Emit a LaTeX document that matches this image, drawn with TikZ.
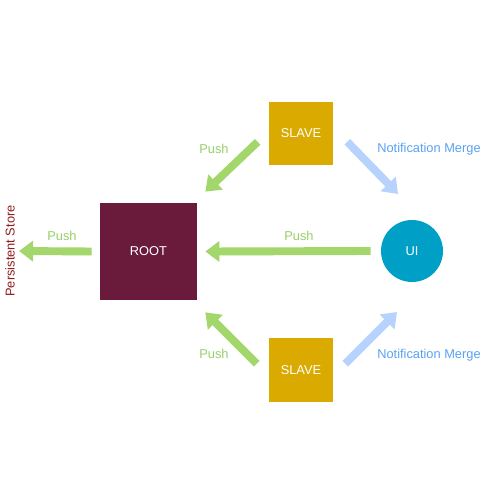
\documentclass[tikz,border=0pt]{standalone}
\usepackage{fontspec}
\setmainfont{Liberation Sans}
\usetikzlibrary{arrows.meta,calc}
\definecolor{rootc}{HTML}{6A1A3A}
\definecolor{slavec}{HTML}{DAAA00}
\definecolor{uic}{HTML}{00A0C6}
\definecolor{greenc}{HTML}{A3D76B}
\definecolor{bluec}{HTML}{B7D2FC}
\definecolor{bluet}{HTML}{5AA2F2}
\definecolor{greent}{HTML}{98CF6A}
\definecolor{storec}{HTML}{8E1E1E}
\tikzset{
  box/.style={draw=none,fill=#1,minimum size=1.92cm,inner sep=0pt,text=white,font=\fontsize{7.3}{8}\selectfont},
  garrow/.style={draw=greenc,line width=4.5pt,-{Triangle[width=11.5pt,length=8pt]}},
  barrow/.style={draw=bluec,line width=4.5pt,-{Triangle[width=11.5pt,length=8pt]}},
  glabel/.style={text=greent,font=\fontsize{7.3}{8}\selectfont,inner sep=0pt},
  blabel/.style={text=bluet,font=\fontsize{7.3}{8}\selectfont,inner sep=0pt},
}
\begin{document}
\begin{tikzpicture}[x=0.02cm,y=-0.02cm]
\useasboundingbox[fill=white] (0,0) rectangle (500,500);
\node[box=rootc,minimum size=1.94cm] (root) at (148.5,251.5) {ROOT};
\node[box=slavec,minimum size=1.28cm] (s1) at (301,133.5) {SLAVE};
\node[box=slavec,minimum size=1.28cm] (s2) at (301,370) {SLAVE};
\node[circle,fill=uic,minimum size=1.24cm,inner sep=0pt,text=white,font=\fontsize{7.3}{8}\selectfont] (ui) at (412,251) {UI};
\node[rotate=90,text=storec,font=\fontsize{7.3}{8}\selectfont,inner sep=0pt] (store) at (10,251) {Persistent Store};
% arrows
\draw[garrow] ($(root.west)+(-8,0)$) -- ($(store.south)+(4,0)$);
\draw[garrow] ($(ui.west)+(-10,0)$) -- ($(root.east)+(8,0)$);
\draw[garrow] ($(s1.south west)+(-11,-24)$) -- ($(root.north east)+(8,-11)$);
\draw[garrow] ($(s2.north west)+(-12,26)$) -- ($(root.south east)+(8,12)$);
\draw[barrow] ($(s1.south east)+(14,-24)$) -- ($(ui.center)+(-14,-57)$);
\draw[barrow] ($(s2.north east)+(12,26)$) -- ($(ui.center)+(-15,61)$);
% labels
\node[glabel] (l1) at (62,236) {Push};
\node[glabel] (l2) at (299,236) {Push};
\node[glabel] (l3) at (214,149) {Push};
\node[glabel] (l4) at (214,354) {Push};
\node[blabel] (l5) at (429,149) {Notification Merge};
\node[blabel] (l6) at (429,355) {Notification Merge};
\end{tikzpicture}
\end{document}
